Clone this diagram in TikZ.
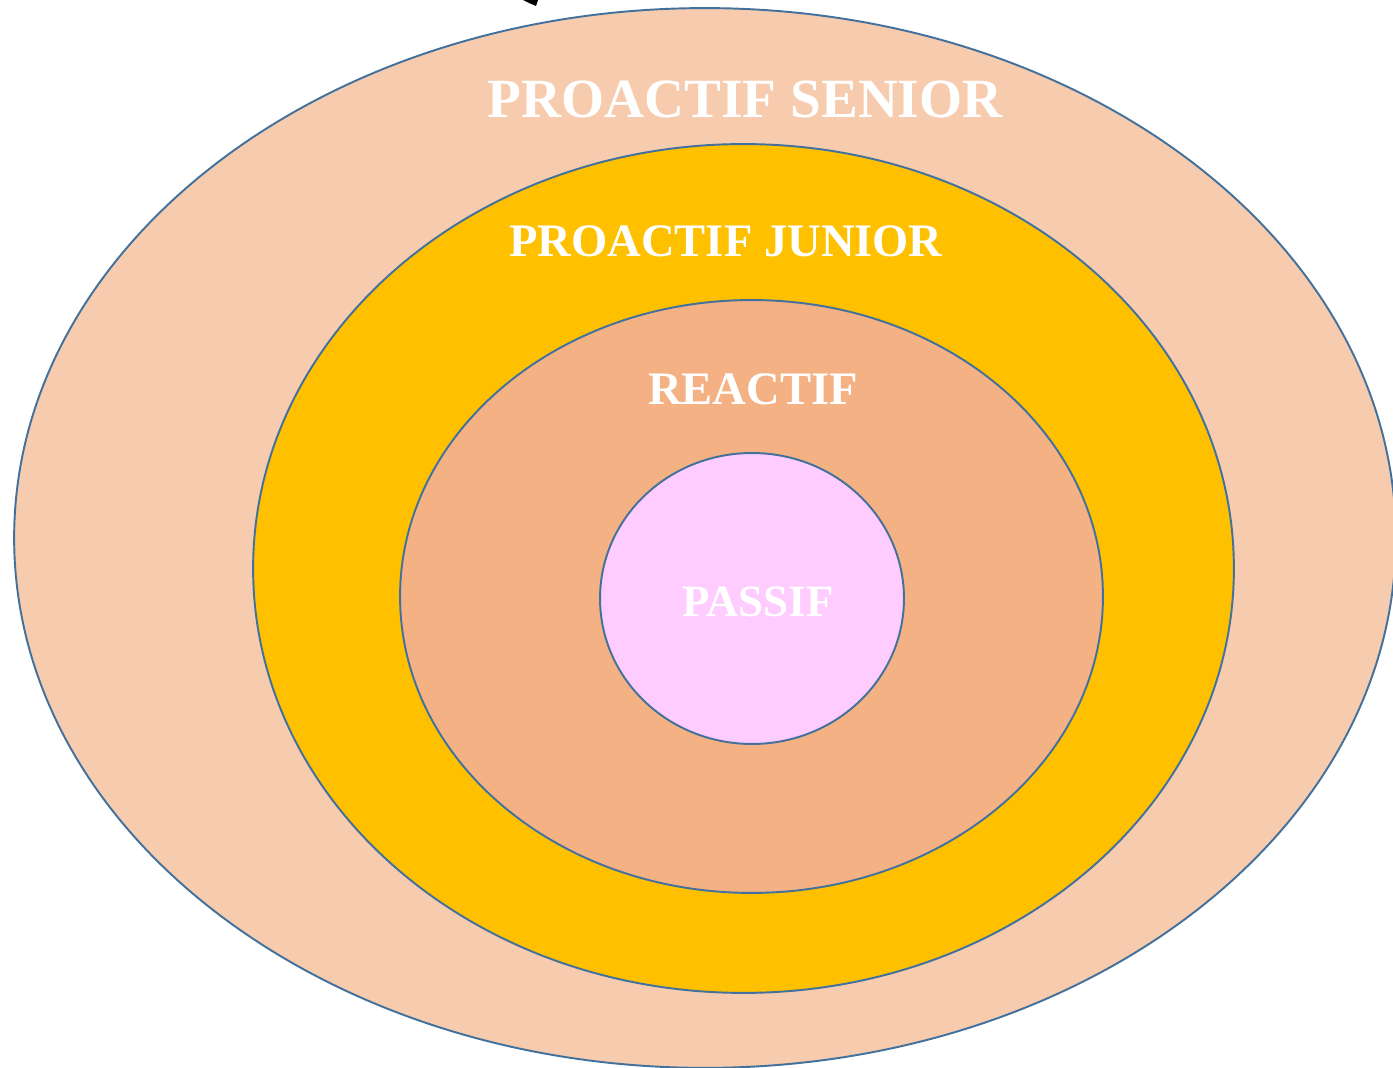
\documentclass[tikz,border=0pt]{standalone}
\usepackage{fontspec}
\setmainfont{Liberation Serif}
\usepackage{xcolor}

\begin{document}
\begin{tikzpicture}[x=0.02cm, y=0.02cm]

% Define ring colors
\definecolor{seniorfill}{RGB}{247,203,173}
\definecolor{juniorfill}{RGB}{255,192,0}
\definecolor{reactiffill}{RGB}{244,177,131}
\definecolor{passiffill}{RGB}{255,204,255}
\definecolor{ringline}{RGB}{65,113,156}

\tikzset{
  ring/.style={draw=ringline, line width=1.1pt},
  ringlabel/.style={text=white, font=\bfseries, anchor=base, inner sep=0pt}
}

% Fix the page size
\useasboundingbox (0,0) rectangle (1393,1068);
\clip (0,0) rectangle (1393,1068);

% Draw the rings from outside to inside
\filldraw[ring, fill=seniorfill] (705,530) ellipse [x radius=13.82cm, y radius=10.6cm];
\filldraw[ring, fill=juniorfill] (743.5,499.5) ellipse [x radius=9.81cm, y radius=8.49cm];
\filldraw[ring, fill=reactiffill] (751.5,471.5) ellipse [x radius=7.03cm, y radius=5.93cm];
\filldraw[ring, fill=passiffill] (752,469.5) ellipse [x radius=3.04cm, y radius=2.91cm];

% Labels of the rings
\node[ringlabel, font=\bfseries\fontsize{31.5}{36}\selectfont] (senior) at (745,950) {PROACTIF SENIOR};
\node[ringlabel, font=\bfseries\fontsize{26.5}{30}\selectfont] (junior) at (726,811) {PROACTIF JUNIOR};
\node[ringlabel, font=\bfseries\fontsize{26.5}{30}\selectfont] (reactif) at (753,663) {REACTIF};
\node[ringlabel, font=\bfseries\fontsize{25.5}{30}\selectfont] (passif) at (758,451) {PASSIF};

% Tip of an arrow cut off at the top
\fill (523,1068) -- (538,1068) -- (536,1062) -- (529,1065) -- cycle;

\end{tikzpicture}
\end{document}
